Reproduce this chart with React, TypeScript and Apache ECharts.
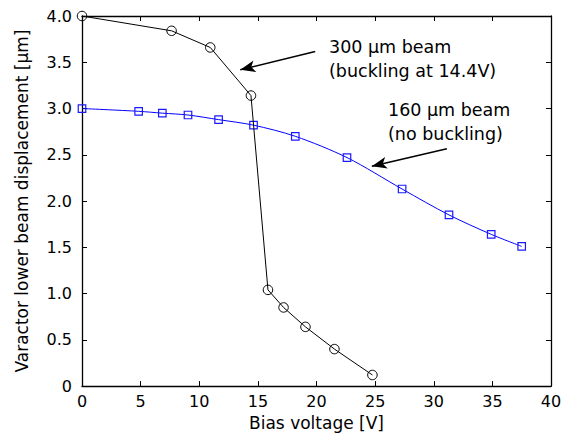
import React, { useEffect, useRef } from "react";
import * as echarts from "echarts";

const beam300V = [0, 7.64, 10.94, 14.41, 15.86, 17.19, 19.06, 21.53, 24.77];
const beam300D = [4.0, 3.84, 3.66, 3.14, 1.04, 0.85, 0.64, 0.4, 0.12];

const beam160V = [0, 4.83, 6.85, 9.04, 11.65, 14.63, 18.19, 22.6, 27.3, 31.3, 34.9, 37.5];
const beam160D = [3.0, 2.97, 2.95, 2.93, 2.88, 2.82, 2.7, 2.47, 2.13, 1.85, 1.64, 1.51];

const xTicks = [0, 5, 10, 15, 20, 25, 30, 35, 40];
const yTicks = [0, 0.5, 1.0, 1.5, 2.0, 2.5, 3.0, 3.5, 4.0];

const arrow300 = { from: [19.89, 3.616], to: [13.5, 3.419] };
const arrow160 = { from: [31.12, 2.565], to: [24.72, 2.377] };

const note300 = ["300 \u03bcm beam", "(buckling at 14.4V)"];
const note160 = ["160 \u03bcm beam", "(no buckling)"];

const FONT = "DejaVu Sans";

export default function App() {
  const ref = useRef<HTMLDivElement>(null);
  useEffect(() => {
    if (!ref.current) return;
    const chart = echarts.init(ref.current, null, { renderer: "svg" });
    const tickCommon = { show: true, inside: true, length: 5, lineStyle: { color: "#000", width: 1 } };
    const lineCommon = { show: true, onZero: false, lineStyle: { color: "#000", width: 1.3 } };
    const xMin = xTicks[0];
    const xMax = xTicks[xTicks.length - 1];
    const yMin = yTicks[0];
    const yMax = yTicks[yTicks.length - 1];
    const arrowLine = (a: { from: number[]; to: number[] }) => [
      { coord: a.from, symbol: "none" },
      { coord: a.to, symbol: "arrow" },
    ];
    chart.setOption({
      animation: false,
      backgroundColor: "#fff",
      textStyle: { fontFamily: FONT },
      grid: { left: 82, right: 14, top: 16, bottom: 49, containLabel: false },
      xAxis: [
        {
          type: "value",
          min: xMin,
          max: xMax,
          interval: 5,
          position: "bottom",
          name: "Bias voltage [V]",
          nameLocation: "middle",
          nameGap: 24,
          nameTextStyle: { fontFamily: FONT, fontSize: 17, color: "#000" },
          axisLine: lineCommon,
          axisTick: tickCommon,
          splitLine: { show: false },
          axisLabel: { margin: 7, fontFamily: FONT, fontSize: 16, color: "#000" },
        },
        {
          type: "value",
          min: xMin,
          max: xMax,
          interval: 5,
          position: "top",
          axisLine: lineCommon,
          axisTick: tickCommon,
          splitLine: { show: false },
          axisLabel: { show: false },
        },
      ],
      yAxis: [
        {
          type: "value",
          min: yMin,
          max: yMax,
          interval: 0.5,
          position: "left",
          name: "Varactor lower beam displacement [\u03bcm]",
          nameLocation: "middle",
          nameGap: 52,
          nameTextStyle: { fontFamily: FONT, fontSize: 17, color: "#000" },
          axisLine: lineCommon,
          axisTick: tickCommon,
          splitLine: { show: false },
          axisLabel: {
            margin: 10,
            fontFamily: FONT,
            fontSize: 16,
            color: "#000",
            formatter: (v: number) => (v === 0 ? "0" : v.toFixed(1)),
          },
        },
        {
          type: "value",
          min: yMin,
          max: yMax,
          interval: 0.5,
          position: "right",
          axisLine: lineCommon,
          axisTick: tickCommon,
          splitLine: { show: false },
          axisLabel: { show: false },
        },
      ],
      series: [
        {
          name: "160 um beam",
          type: "line",
          data: beam160V.map((v, i) => [v, beam160D[i]]),
          symbol: "rect",
          symbolSize: 7.5,
          smooth: 0.3,
          lineStyle: { color: "#0000ff", width: 1 },
          itemStyle: { color: "transparent", borderColor: "#1a1aff", borderWidth: 1.2 },
          z: 2,
        },
        {
          name: "300 um beam",
          type: "line",
          data: beam300V.map((v, i) => [v, beam300D[i]]),
          symbol: "circle",
          symbolSize: 9.5,
          lineStyle: { color: "#000", width: 1 },
          itemStyle: { color: "transparent", borderColor: "#000", borderWidth: 1 },
          z: 3,
          markLine: {
            silent: true,
            symbolSize: [9, 15],
            label: { show: false },
            lineStyle: { color: "#000", width: 1.5, type: "solid" },
            data: [arrowLine(arrow300), arrowLine(arrow160)],
          },
        },
      ],
      graphic: [
        { type: "text", left: 329, top: 38, style: { text: note300[0], font: `17.5px '${FONT}'`, fill: "#000" } },
        { type: "text", left: 329, top: 62, style: { text: note300[1], font: `17.5px '${FONT}'`, fill: "#000" } },
        { type: "text", left: 388, top: 101, style: { text: note160[0], font: `17.5px '${FONT}'`, fill: "#000" } },
        { type: "text", left: 388, top: 125, style: { text: note160[1], font: `17.5px '${FONT}'`, fill: "#000" } },
      ],
    });
    return () => chart.dispose();
  }, []);
  return (
    <div
      ref={ref}
      style={{ position: "absolute", left: 0, top: 0, width: 565, height: 436, background: "#fff" }}
    />
  );
}
